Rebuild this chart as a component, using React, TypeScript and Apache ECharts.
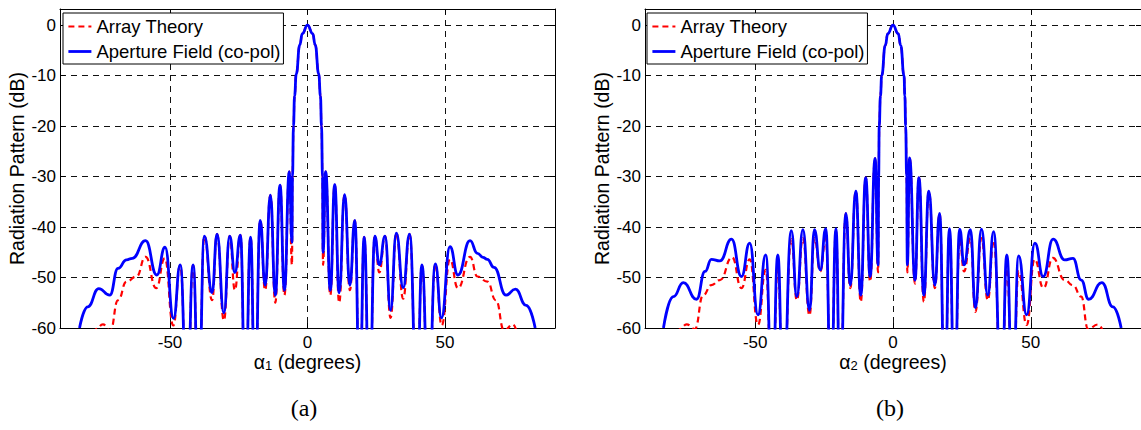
import React, { useEffect, useRef } from 'react';
import * as echarts from 'echarts';

// ---------- data ----------
const xTickValues = [-50, 0, 50];
const yTickValues = [-60, -50, -40, -30, -20, -10, 0];
const seriesNames = ['Array Theory', 'Aperture Field (co-pol)'];
const panelLabels = ['(a)', '(b)'];
const angleSubscripts = ['1', '2'];
const yAxisTitle = 'Radiation Pattern (dB)';

// panel (a) – aperture field (co-pol), [angle deg, dB]
const apertureFieldA: [number, number][] = [
  [-82.9, -60], [-79.9, -55.8], [-75.9, -52.2], [-71.9, -53.5], [-68.9, -48.2],
  [-65.8, -46.5], [-63.7, -46.2], [-58.9, -42.7], [-54.8, -49.5], [-51.8, -44.0],
  [-48.7, -58.1], [-46.3, -47.5], [-43.8, -75], [-41.6, -47.5], [-39.6, -75],
  [-37.5, -41.8], [-34.7, -53.0], [-32.9, -41.4], [-30.4, -57.0], [-28.3, -41.8],
  [-26.4, -49.0], [-24.4, -41.6], [-22.6, -75], [-20.7, -42.0], [-19.1, -75],
  [-17.2, -38.7], [-15.4, -51.5], [-13.5, -33.7], [-11.7, -53.5], [-10.0, -31.7],
  [-8.4, -52.5], [-6.6, -29.0], [-5.65, -43.0], [-5.45, -30.0], [-5.1, -20.0],
  [-4.7, -14.0], [-4.1, -9.7], [-2.8, -3.9], [-1.9, -1.7], [0, 0],
  [1.9, -1.7], [2.8, -3.9], [4.1, -9.7], [4.7, -14.0], [5.1, -20.0],
  [5.45, -30.0], [5.65, -45.0], [6.6, -29.0], [8.3, -52.5], [9.9, -31.6],
  [11.5, -53.0], [13.5, -33.6], [15.4, -51.5], [17.2, -38.7], [19.0, -75],
  [20.6, -42.0], [22.5, -75], [24.5, -41.8], [26.1, -47.5], [28.2, -41.8],
  [30.2, -56.5], [32.3, -41.2], [34.8, -52.0], [37.1, -41.4], [39.8, -75],
  [41.6, -47.5], [44.0, -75], [46.5, -47.3], [48.7, -58.0], [51.8, -43.9],
  [54.7, -49.5], [59.1, -42.7], [61.8, -45.2], [63.8, -46.0], [65.4, -46.4],
  [67.8, -48.0], [72.2, -53.5], [75.6, -52.3], [79.5, -55.5], [82.8, -60],
];

// panel (a) – array theory
const arrayTheoryA: [number, number][] = [
  [-78.5, -63], [-76.8, -60.2], [-74.4, -59.3], [-71.7, -60.5], [-68.9, -54.5],
  [-65.8, -50.8], [-62.2, -49.8], [-58.9, -45.9], [-55.0, -52.1], [-51.9, -46.2],
  [-48.8, -59.5], [-46.3, -47.6], [-43.8, -75], [-41.6, -47.6], [-39.6, -75],
  [-37.5, -41.8], [-34.7, -54.5], [-32.9, -41.4], [-30.4, -58.5], [-28.3, -41.8],
  [-26.4, -52.5], [-24.4, -41.6], [-22.6, -75], [-20.7, -42.0], [-19.1, -75],
  [-17.2, -38.7], [-15.4, -52.5], [-13.5, -33.7], [-11.7, -55.0], [-10.0, -31.7],
  [-8.4, -53.5], [-6.6, -29.0], [-5.65, -47.5], [-5.45, -30.0], [-5.1, -20.0],
  [-4.7, -14.0], [-4.1, -9.7], [-2.8, -3.9], [-1.9, -1.7], [0, 0],
  [1.9, -1.7], [2.8, -3.9], [4.1, -9.7], [4.7, -14.0], [5.1, -20.0],
  [5.45, -30.0], [5.65, -47.5], [6.6, -29.0], [8.3, -53.5], [9.9, -31.6],
  [11.5, -55.0], [13.5, -33.6], [15.4, -52.5], [17.2, -38.7], [19.0, -75],
  [20.6, -42.0], [22.5, -75], [24.5, -41.8], [26.1, -49.0], [28.2, -41.8],
  [30.2, -58.0], [32.3, -41.2], [34.8, -54.2], [37.1, -41.4], [39.8, -75],
  [41.6, -47.6], [44.0, -75], [46.5, -47.4], [48.8, -59.5], [51.8, -46.4],
  [54.7, -52.1], [59.1, -45.9], [61.8, -49.8], [65.4, -50.8], [68.5, -54.5],
  [71.5, -60.5], [74.7, -59.3], [77.0, -63],
];

// panel (b) – aperture field (co-pol)
const apertureFieldB: [number, number][] = [
  [-83.3, -60], [-79.7, -53.8], [-76.1, -51.0], [-71.3, -54.3], [-68.2, -48.8],
  [-65.9, -46.4], [-62.8, -46.7], [-58.6, -42.4], [-55.0, -49.8], [-52.0, -43.2],
  [-49.0, -57.4], [-46.2, -45.5], [-43.8, -75], [-41.8, -45.5], [-39.9, -75],
  [-36.9, -40.7], [-34.9, -53.8], [-32.7, -40.5], [-30.3, -56.5], [-28.5, -40.5],
  [-26.4, -48.5], [-24.4, -40.3], [-22.5, -75], [-20.7, -40.3], [-19.2, -75],
  [-17.1, -37.3], [-15.5, -51.5], [-13.5, -32.9], [-11.7, -53.5], [-9.9, -30.2],
  [-8.3, -49.8], [-6.5, -26.4], [-5.4, -47.5], [-5.2, -30.0], [-5.0, -20.0],
  [-4.55, -14.0], [-4.1, -10.0], [-2.8, -4.0], [-1.9, -1.7], [0, 0],
  [1.9, -1.7], [2.8, -4.0], [4.0, -10.0], [4.3, -14.0], [4.6, -20.0],
  [4.95, -30.0], [5.2, -47.5], [6.0, -26.3], [8.0, -50.5], [9.4, -30.2],
  [11.2, -53.5], [13.0, -32.9], [15.2, -51.5], [16.9, -37.3], [18.8, -75],
  [20.5, -40.3], [22.3, -75], [24.2, -40.4], [25.8, -47.5], [28.1, -40.5],
  [29.9, -56.0], [32.1, -40.4], [34.4, -53.5], [36.5, -40.9], [39.4, -75],
  [41.3, -45.5], [43.4, -75], [45.6, -45.7], [48.5, -57.4], [51.5, -43.2],
  [54.5, -49.8], [58.1, -42.4], [62.3, -46.5], [65.3, -46.2], [68.3, -50.5],
  [71.0, -54.3], [75.8, -51.0], [79.8, -55.8], [82.8, -60],
];

// panel (b) – array theory
const arrayTheoryB: [number, number][] = [
  [-78.5, -63], [-77.3, -60.2], [-74.9, -59.3], [-71.9, -60.2], [-68.9, -53.5],
  [-65.9, -51.5], [-62.8, -50.5], [-58.4, -46.0], [-55.0, -52.1], [-52.0, -46.4],
  [-49.0, -59.4], [-46.2, -48.5], [-43.8, -75], [-41.8, -48.2], [-39.9, -75],
  [-36.9, -42.4], [-34.9, -54.5], [-32.7, -42.2], [-30.3, -57.5], [-28.5, -42.2],
  [-26.4, -48.8], [-24.4, -42.2], [-22.5, -75], [-20.7, -40.8], [-19.2, -75],
  [-17.1, -37.3], [-15.5, -52.1], [-13.5, -32.9], [-11.7, -54.8], [-9.9, -30.2],
  [-8.3, -50.8], [-6.5, -26.4], [-5.4, -49.0], [-5.2, -30.0], [-5.0, -20.0],
  [-4.55, -14.0], [-4.1, -10.0], [-2.8, -4.0], [-1.9, -1.7], [0, 0],
  [1.9, -1.7], [2.8, -4.0], [4.0, -10.0], [4.3, -14.0], [4.6, -20.0],
  [4.95, -30.0], [5.2, -49.0], [6.0, -26.3], [8.0, -51.2], [9.4, -30.2],
  [11.2, -54.8], [13.0, -32.9], [15.2, -52.1], [16.9, -37.3], [18.8, -75],
  [20.5, -40.8], [22.3, -75], [24.2, -42.5], [25.8, -48.8], [28.1, -42.2],
  [29.9, -56.8], [32.1, -42.2], [34.4, -54.5], [36.5, -42.6], [39.4, -75],
  [41.3, -48.2], [43.4, -75], [45.6, -48.8], [48.5, -59.4], [51.4, -46.4],
  [54.6, -52.1], [58.0, -46.1], [62.3, -50.5], [65.3, -51.5], [68.3, -53.8],
  [70.8, -60.2], [74.4, -59.3], [77.0, -62],
];

const arrayTheory = [arrayTheoryA, arrayTheoryB];
const apertureField = [apertureFieldA, apertureFieldB];

// ---------- styling / layout ----------
const FONT = '"Liberation Sans", Arial, Helvetica, sans-serif';
const SERIF = '"Liberation Serif", "Times New Roman", serif';
const GRIDS = [
  { left: 60, top: 9, width: 495, height: 319 },
  { left: 645, top: 9, width: 497, height: 319 },
];
const LEGEND_LEFT = [63, 647];
const PANEL_LABEL_X = [304, 890];
const RED = '#ff0000';
const BLUE = '#0000ff';
const GRIDLINE = { color: '#111', width: 1, type: [6, 5] as number[] };
const TITLE_SIZE = 19.5;

function buildOption(): echarts.EChartsOption {
  const xAxis: any[] = [];
  const yAxis: any[] = [];
  const series: any[] = [];
  const legend: any[] = [];
  const graphic: any[] = [];

  GRIDS.forEach((_, i) => {
    xAxis.push({
      type: 'value', gridIndex: i, min: -90, max: 90, splitNumber: 4, position: 'bottom',
      name: `{a|α}{s|${angleSubscripts[i]}}{t| (degrees)}`,
      nameLocation: 'middle', nameGap: 23, nameMoveOverlap: false,
      nameTextStyle: {
        color: '#000', fontFamily: FONT, fontSize: TITLE_SIZE,
        rich: {
          a: { fontFamily: FONT, fontSize: TITLE_SIZE, color: '#000' },
          s: { fontFamily: FONT, fontSize: 13, color: '#000', padding: [8, 0, 0, 0] },
          t: { fontFamily: FONT, fontSize: TITLE_SIZE, color: '#000' },
        },
      },
      axisLine: { show: true, onZero: false, lineStyle: { color: '#000', width: 1 } },
      axisTick: { show: true, inside: true, length: 5, lineStyle: { color: '#000' } },
      axisLabel: {
        show: true, margin: 6, color: '#000', fontFamily: FONT, fontSize: 17,
        showMinLabel: false, showMaxLabel: false,
        formatter: (v: number) => (xTickValues.includes(v) ? String(v) : ''),
      },
      splitLine: { show: true, showMinLine: false, showMaxLine: false, lineStyle: GRIDLINE },
      z: 1,
    });
    xAxis.push({
      type: 'value', gridIndex: i, min: -90, max: 90, splitNumber: 4, position: 'top',
      axisLine: { show: true, onZero: false, lineStyle: { color: '#000', width: 1 } },
      axisTick: { show: true, inside: true, length: 5, lineStyle: { color: '#000' } },
      axisLabel: { show: false },
      splitLine: { show: false },
      z: 3,
    });
    yAxis.push({
      type: 'value', gridIndex: i, min: -60, max: 3.2, interval: 10, position: 'left',
      name: yAxisTitle, nameLocation: 'middle', nameRotate: 90, nameGap: 33, nameMoveOverlap: false,
      nameTextStyle: { color: '#000', fontFamily: FONT, fontSize: TITLE_SIZE },
      axisLine: { show: true, onZero: false, lineStyle: { color: '#000', width: 1 } },
      axisTick: { show: true, inside: true, length: 5, lineStyle: { color: '#000' } },
      axisLabel: {
        show: true, margin: 4, color: '#000', fontFamily: FONT, fontSize: 17,
        showMaxLabel: false,
        formatter: (v: number) => (yTickValues.includes(v) ? String(v) : ''),
      },
      splitLine: { show: true, showMinLine: false, showMaxLine: false, lineStyle: GRIDLINE },
      z: 1,
    });
    yAxis.push({
      type: 'value', gridIndex: i, min: -60, max: 3.2, interval: 10, position: 'right',
      axisLine: { show: true, onZero: false, lineStyle: { color: '#000', width: 1 } },
      axisTick: { show: true, inside: true, length: 5, lineStyle: { color: '#000' } },
      axisLabel: { show: false },
      splitLine: { show: false },
      z: 3,
    });

    series.push({
      type: 'line', name: seriesNames[0], xAxisIndex: 2 * i, yAxisIndex: 2 * i,
      data: arrayTheory[i], symbol: 'none', showSymbol: false,
      smooth: 0.5, smoothMonotone: 'x', clip: true,
      lineStyle: { color: RED, width: 2.2, type: [6, 4] }, itemStyle: { color: RED },
      z: 2, silent: true,
    });
    series.push({
      type: 'line', name: seriesNames[1], xAxisIndex: 2 * i, yAxisIndex: 2 * i,
      data: apertureField[i], symbol: 'none', showSymbol: false,
      smooth: 0.5, smoothMonotone: 'x', clip: true,
      lineStyle: { color: BLUE, width: 2.8, type: 'solid' }, itemStyle: { color: BLUE },
      z: 3, silent: true,
    });

    legend.push({
      orient: 'vertical', left: LEGEND_LEFT[i], top: 13,
      data: [
        { name: seriesNames[0], itemStyle: { opacity: 0 }, lineStyle: { width: 2.2, type: [6, 4], color: RED } },
        { name: seriesNames[1], itemStyle: { opacity: 0 }, lineStyle: { width: 2.8, color: BLUE } },
      ],
      backgroundColor: '#fff', borderColor: '#000', borderWidth: 1, borderRadius: 0,
      padding: [4, 3, 3, 4], itemGap: 6, itemWidth: 23, itemHeight: 12,
      textStyle: { color: '#000', fontFamily: FONT, fontSize: 18.5 },
      selectedMode: false, z: 10,
    });

    graphic.push({
      type: 'text', x: PANEL_LABEL_X[i], y: 408,
      style: {
        text: panelLabels[i], font: `24px ${SERIF}`, fill: '#000',
        textAlign: 'center', textVerticalAlign: 'middle', align: 'center', verticalAlign: 'middle',
      },
    });
  });

  return {
    animation: false,
    backgroundColor: '#fff',
    grid: GRIDS.map((g) => ({ ...g, show: false, containLabel: false })),
    xAxis, yAxis, series, legend, graphic,
  } as any;
}

export default function App() {
  const ref = useRef<HTMLDivElement>(null);
  useEffect(() => {
    if (!ref.current) return;
    const chart = echarts.init(ref.current, undefined, { renderer: 'svg' });
    chart.setOption(buildOption());
    return () => chart.dispose();
  }, []);
  return (
    <div
      ref={ref}
      style={{ position: 'fixed', left: 0, top: 0, width: 1141, height: 430, background: '#fff' }}
    />
  );
}
